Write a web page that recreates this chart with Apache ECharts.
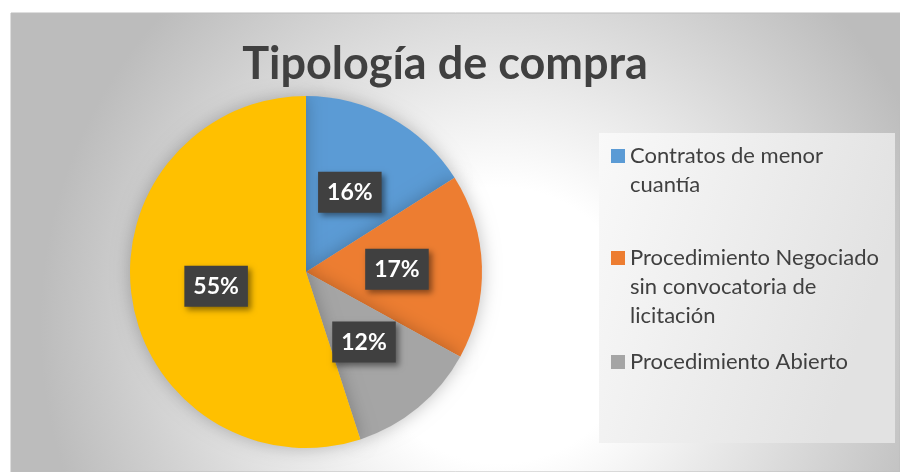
<!DOCTYPE html>
<html>
<head>
<meta charset="utf-8">
<script src="https://cdn.jsdelivr.net/npm/echarts@6/dist/echarts.min.js"></script>
<style>
  html, body { margin: 0; padding: 0; background: #fff; }
  #chart { width: 900px; height: 472px; }
</style>
</head>
<body>
<div id="chart"></div>
<script>
// tipos de compra y su porcentaje
const categories = [
  "Contratos de menor cuantía",
  "Procedimiento Negociado sin convocatoria de licitación",
  "Procedimiento Abierto",
  "Contratación directa"
];
const values = [16, 17, 12, 55];
const colors = ["#5B9BD5", "#ED7D31", "#A5A5A5", "#FFC000"];
// texto de la leyenda partido en lineas como en el original
const legendLines = [
  ["Contratos de menor", "cuantía"],
  ["Procedimiento Negociado", "sin convocatoria de", "licitación"],
  ["Procedimiento Abierto"]
];
const legendIconY = [156, 258, 362];

const FONT = "Lato";
const LH = 29;

const chart = echarts.init(document.getElementById("chart"));

// una leyenda por item, para colocar cada uno donde esta en el original
let legends = [];
for (let i = 0; i < legendLines.length; i++) {
  const n = legendLines[i].length;
  const h = (2 * n - 1) * LH;
  legends.push({
    orient: "vertical",
    left: 611,
    top: legendIconY[i] - h / 2,
    padding: 0,
    itemWidth: 14,
    itemHeight: 14,
    icon: "rect",
    selectedMode: false,
    data: [categories[i]],
    // lineas vacias arriba para que el cuadro quede en la primera linea
    formatter: () => "\n".repeat(n - 1) + legendLines[i].join("\n"),
    textStyle: {
      fontFamily: FONT,
      fontSize: 22,
      color: "#404040",
      lineHeight: LH
    }
  });
}

const option = {
  backgroundColor: "#ffffff",
  color: colors,
  graphic: [
    {
      type: "rect",
      z: -10,
      shape: { x: 11, y: 13, width: 889, height: 459 },
      style: {
        fill: {
          type: "radial", x: 0.55, y: 0.68, r: 1.0,
          colorStops: [
            { offset: 0, color: "#ffffff" },
            { offset: 0.3, color: "#ffffff" },
            { offset: 1, color: "#bcbcbc" }
          ]
        },
        stroke: "#bdbdbd",
        lineWidth: 1
      }
    },
    {
      type: "rect",
      z: -9,
      shape: { x: 599, y: 133, width: 296, height: 310 },
      style: {
        fill: {
          type: "linear", x: 0, y: 0, x2: 1, y2: 0.3,
          colorStops: [
            { offset: 0, color: "#f9f9f9" },
            { offset: 1, color: "#e2e2e2" }
          ]
        }
      }
    }
  ],
  title: {
    text: "Tipología de compra",
    left: 440,
    textAlign: "center",
    top: 37,
    textStyle: {
      fontFamily: FONT,
      fontSize: 45,
      fontWeight: "bold",
      color: "#404040"
    }
  },
  legend: legends,
  series: [
    {
      type: "pie",
      center: [306, 272],
      radius: 176,
      startAngle: 90,
      clockwise: true,
      data: categories.map((c, i) => ({ name: c, value: values[i] })),
      itemStyle: {
        shadowBlur: 18,
        shadowColor: "rgba(0,0,0,0.25)"
      },
      emphasis: { disabled: true },
      label: {
        position: "inside",
        formatter: "{d}%",
        fontFamily: FONT,
        fontSize: 23,
        fontWeight: "bold",
        color: "#ffffff",
        backgroundColor: "#404040",
        padding: [10, 9, 8, 9],
        shadowBlur: 6,
        shadowOffsetX: 3,
        shadowOffsetY: 3,
        shadowColor: "rgba(0,0,0,0.45)"
      },
      labelLine: { show: false }
    }
  ]
};

chart.setOption(option);
</script>
</body>
</html>
